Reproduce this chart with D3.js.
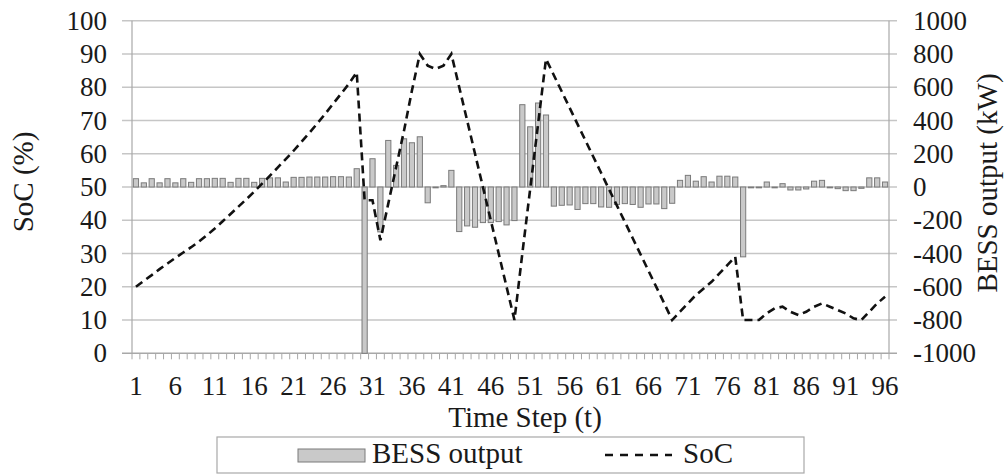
<!DOCTYPE html>
<html>
<head>
<meta charset="utf-8">
<script src="https://cdn.jsdelivr.net/npm/d3@7/dist/d3.min.js"></script>
<style>
  html, body { margin: 0; padding: 0; background: #fff; }
  svg { display: block; }
  svg text { font-family: 'Liberation Serif', 'DejaVu Serif', serif; fill: #1a1a1a; }
</style>
</head>
<body>
<svg id="chart" width="1006" height="475" font-family="Liberation Serif, serif"></svg>
<script>
// ---- data ----
const timeSteps = d3.range(1, 97);
const socValues = [
  20, 21.8, 23.5, 25.3, 27, 28.7, 30.3, 31.9, 33.6, 35.5,
  37.5, 39.7, 41.9, 44.1, 46.3, 48.6, 51, 53.4, 55.9, 58.4,
  60.9, 63.6, 66.3, 69.1, 72, 75, 78, 81, 84.5, 46,
  46, 34, 45, 56, 67, 79, 90, 86.5, 85.5, 86.5,
  90, 80, 70, 60, 50, 40, 30, 20, 10, 30,
  49.5, 69, 88.5, 83.6, 78.7, 73.8, 68.9, 64, 59.1, 54.2,
  49.3, 44.4, 39.5, 34.6, 29.7, 24.8, 19.9, 15, 10, 12.5,
  15, 17.5, 19.5, 21.5, 24, 26.5, 29, 10, 10, 10,
  12, 13.5, 14, 12.5, 11.5, 12.5, 14, 15, 14, 13,
  12, 10.5, 10, 12.5, 15, 17
];
const bessValues = [
  50, 25, 50, 25, 50, 25, 50, 28, 50, 50,
  52, 52, 28, 52, 52, 28, 52, 55, 55, 30,
  58, 58, 60, 60, 60, 62, 62, 60, 110, -1000,
  170, -270, 280, 130, 290, 266, 302, -95, -5, 8,
  100, -268, -234, -242, -214, -214, -208, -228, -202, 495,
  362, 505, 433, -115, -110, -108, -135, -100, -100, -120,
  -122, -105, -100, -105, -122, -102, -102, -130, -98, 40,
  70, 35, 62, 30, 65, 65, 60, -420, -5, -5,
  30, -5, 20, -18, -18, -12, 35, 40, -5, -10,
  -22, -22, -8, 55, 55, 30
];
const socTicks = d3.range(0, 101, 10);
const bessTicks = d3.range(-1000, 1001, 200);
const xLabelSteps = d3.range(1, 97, 5);

// ---- layout ----
const svg = d3.select("#chart");
const pL = 132, pR = 889, pT = 20.7, pB = 353.3;
const x = d3.scaleBand().domain(timeSteps).range([pL, pR]).padding(0);
const yL = d3.scaleLinear().domain([0, 100]).range([pB, pT]);
const yR = d3.scaleLinear().domain([-1000, 1000]).range([pB, pT]);
const bw = x.bandwidth();
const fs = 27;
const fsT = 29;
const FF = "Liberation Serif";

// gridlines
svg.append("g").selectAll("line").data(socTicks.filter(d => d > 0)).join("line")
  .attr("x1", pL - 10).attr("x2", pR + 8)
  .attr("y1", d => yL(d)).attr("y2", d => yL(d))
  .attr("stroke", "#c6c6c6").attr("stroke-width", 1.4);

// axis lines
svg.append("line").attr("x1", pL).attr("x2", pL).attr("y1", pT).attr("y2", pB)
  .attr("stroke", "#a8a8a8").attr("stroke-width", 1.2);
svg.append("line").attr("x1", pR).attr("x2", pR).attr("y1", pT).attr("y2", pB)
  .attr("stroke", "#a8a8a8").attr("stroke-width", 1.2);
svg.append("line").attr("x1", pL - 10).attr("x2", pR + 8).attr("y1", pB).attr("y2", pB)
  .attr("stroke", "#a8a8a8").attr("stroke-width", 1.4);

// x ticks at category boundaries
svg.append("g").selectAll("line").data(d3.range(0, 97)).join("line")
  .attr("x1", d => pL + d * bw).attr("x2", d => pL + d * bw)
  .attr("y1", pB).attr("y2", pB + 6)
  .attr("stroke", "#a8a8a8").attr("stroke-width", 1);

// bars
const zero = yR(0);
svg.append("g").selectAll("rect").data(timeSteps).join("rect")
  .attr("x", d => x(d) + bw * 0.17)
  .attr("width", bw * 0.66)
  .attr("y", (d, i) => Math.min(zero, yR(bessValues[i])))
  .attr("height", (d, i) => Math.abs(yR(bessValues[i]) - zero))
  .attr("fill", "#c9c9c9").attr("stroke", "#7a7a7a").attr("stroke-width", 1);

// SoC line
const line = d3.line().x((d, i) => x(timeSteps[i]) + bw / 2).y(d => yL(d));
svg.append("path").datum(socValues).attr("d", line)
  .attr("fill", "none").attr("stroke", "#111").attr("stroke-width", 2.6)
  .attr("stroke-dasharray", "8,5");

// left tick labels
svg.append("g").selectAll("text").data(socTicks).join("text")
  .attr("x", 107).attr("y", d => yL(d)).attr("dy", "0.34em")
  .attr("text-anchor", "end").attr("font-family", FF).attr("font-size", fs).text(d => d);

// right tick labels
svg.append("g").selectAll("text").data(bessTicks).join("text")
  .attr("x", 913).attr("y", d => yR(d)).attr("dy", "0.34em")
  .attr("text-anchor", "start").attr("font-family", FF).attr("font-size", fs).text(d => d);

// x tick labels
svg.append("g").selectAll("text").data(xLabelSteps).join("text")
  .attr("x", d => x(d) + bw / 2).attr("y", 395)
  .attr("text-anchor", "middle").attr("font-family", FF).attr("font-size", fs).text(d => d);

// axis titles
svg.append("text").attr("x", 525).attr("y", 427).attr("text-anchor", "middle")
  .attr("font-family", FF).attr("font-size", fsT).text("Time Step (t)");
svg.append("text").attr("transform", "translate(23,182) rotate(-90)")
  .attr("text-anchor", "middle").attr("dy", "0.35em")
  .attr("font-family", FF).attr("font-size", fsT).text("SoC (%)");
svg.append("text").attr("transform", "translate(987,183) rotate(-90)")
  .attr("text-anchor", "middle").attr("dy", "0.35em")
  .attr("font-family", FF).attr("font-size", fsT).text("BESS output (kW)");

// legend
const lg = svg.append("g");
lg.append("rect").attr("x", 217).attr("y", 437).attr("width", 587).attr("height", 36)
  .attr("fill", "#fff").attr("stroke", "#a8a8a8").attr("stroke-width", 1.2);
lg.append("rect").attr("x", 298).attr("y", 449).attr("width", 67).attr("height", 13)
  .attr("fill", "#c9c9c9").attr("stroke", "#7a7a7a").attr("stroke-width", 1);
lg.append("text").attr("x", 372).attr("y", 463).attr("font-family", FF).attr("font-size", fsT).text("BESS output");
lg.append("line").attr("x1", 605).attr("x2", 672).attr("y1", 455).attr("y2", 455)
  .attr("stroke", "#111").attr("stroke-width", 2.6).attr("stroke-dasharray", "8,7");
lg.append("text").attr("x", 683).attr("y", 463).attr("font-family", FF).attr("font-size", fsT).text("SoC");
</script>
</body>
</html>
